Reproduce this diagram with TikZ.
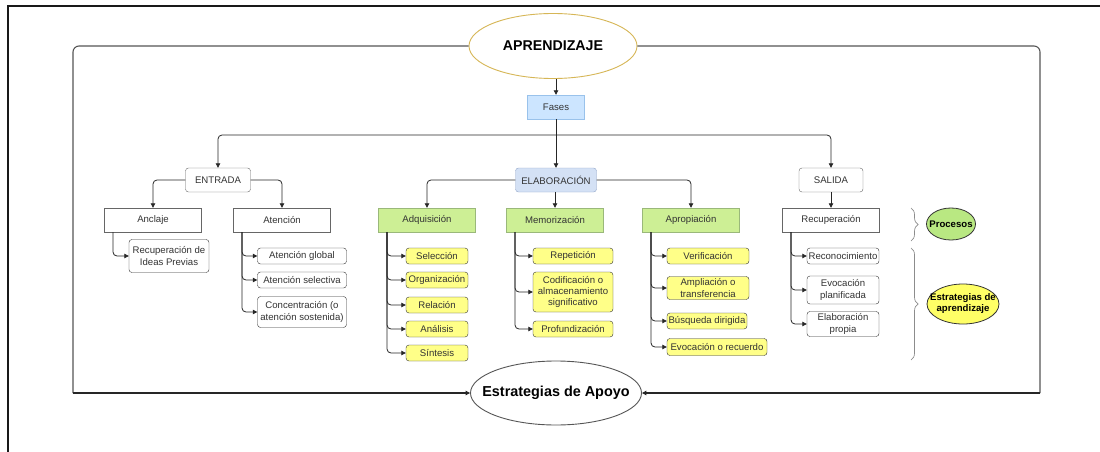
\documentclass[tikz,border=0pt]{standalone}
\usepackage{fontspec}
\setmainfont{Liberation Sans}
\usetikzlibrary{shapes.geometric,arrows.meta,decorations.pathreplacing}
\definecolor{texto}{HTML}{333333}
\definecolor{borde}{HTML}{666666}
\definecolor{marco}{HTML}{555555}
\definecolor{oro}{HTML}{D6B656}
\definecolor{azulf}{HTML}{CCE5FF}
\definecolor{azulb}{HTML}{99C2EB}
\definecolor{azule}{HTML}{D4E1F5}
\definecolor{azuleb}{HTML}{8FA3C7}
\definecolor{verde}{HTML}{CDEF95}
\definecolor{verdeb}{HTML}{9AB87A}
\definecolor{verdep}{HTML}{B9E882}
\definecolor{amarillo}{HTML}{FFFF88}
\definecolor{amarillop}{HTML}{FFFF66}
\newcommand{\letra}{\fontsize{9.6}{11.4}\selectfont}

\begin{document}
\begin{tikzpicture}[x=1pt,y=-1pt,
fase/.style={
	draw=borde, rounded corners=3pt, fill=white,
	minimum width=65pt, minimum height=24pt,
	inner sep=1pt, text=texto, font=\letra
},
proceso/.style={
	draw=borde, fill=white,
	minimum width=97pt, minimum height=24pt,
	inner sep=1pt, text=texto, font=\letra
},
estr/.style={
	draw=texto, rounded corners=3pt, fill=white,
	minimum height=16pt, inner sep=1pt,
	text=texto, font=\letra, align=center
},
conn/.style={draw=black!85, line width=0.8pt, -{Triangle[length=4.5pt,width=4.5pt]}},
rama/.style={conn, rounded corners=4pt},
llave/.style={draw=black!45, line width=0.7pt, decorate, decoration={brace, amplitude=7pt}},
elipse/.style={ellipse, inner xsep=-20pt, inner ysep=0pt, text=black}
]
\useasboundingbox (0,0) rectangle (1100,452);
\draw[black!90, line width=1.3pt] (8,452) -- (8,6) -- (1100,6);

\node[elipse, draw=oro, line width=0.9pt, fill=white, minimum width=168pt, minimum height=65pt,
	font=\fontsize{14.2}{16}\selectfont\bfseries] (aprend) at (553,46) {APRENDIZAJE};
\node[elipse, draw=marco, line width=0.9pt, fill=white, minimum width=171pt, minimum height=64pt,
	font=\fontsize{14.4}{16}\selectfont\bfseries] (apoyo) at (556,393) {Estrategias de Apoyo};
\coordinate (esqIzq) at (73,393);
\coordinate (esqDer) at (1040,393);
\draw[marco, line width=1.1pt, rounded corners=6pt] (aprend.west) -| (esqIzq);
\draw[marco, line width=1.1pt, rounded corners=6pt] (aprend.east) -| (esqDer);
\draw[conn, line width=1.1pt] (esqIzq) -- (apoyo.west);
\draw[conn, line width=1.1pt] (esqDer) -- (apoyo.east);

\node[draw=azulb, fill=azulf, minimum width=57pt, minimum height=24pt, text=texto, font=\letra] (fases) at (556,107) {Fases};
\draw[conn] (aprend.south -| fases.north) -- (fases.north);

\node[fase] (entrada) at (218,180) {ENTRADA};
\node[fase, fill=azule, draw=azuleb, minimum width=81pt] (elab) at (556,180) {ELABORACIÓN};
\node[fase, minimum width=64pt] (salida) at (831,180) {SALIDA};
\coordinate (bus) at (556,135);
\draw[conn] (fases.south) -- (elab.north);
\draw[rama] (bus) -| (entrada.north);
\draw[rama] (bus) -| (salida.north);

\node[proceso] (anclaje) at (153,220) {Anclaje};
\node[proceso] (atencion) at (282,220) {Atención};
\node[proceso, fill=verde, draw=verdeb] (adqui) at (427,220) {Adquisición};
\node[proceso, fill=verde, draw=verdeb] (memo) at (555,220) {Memorización};
\node[proceso, fill=verde, draw=verdeb] (apropi) at (691,220) {Apropiación};
\node[proceso] (recup) at (831,220) {Recuperación};
\draw[rama] (entrada.west) -| (anclaje.north);
\draw[rama] (entrada.east) -| (atencion.north);
\draw[rama] (elab.west) -| (adqui.north);
\draw[rama] (elab.east) -| (apropi.north);
\draw[conn] (elab.south -| memo.north) -- (memo.north);
\draw[conn] (salida.south) -- (recup.north);

\node[estr, minimum width=80pt, minimum height=33pt] (ideas) at (169,256) {Recuperación de\\Ideas Previas};
\node[estr, minimum width=89pt] (aglobal) at (302,256) {Atención global};
\node[estr, minimum width=89pt] (aselec) at (302,280) {Atención selectiva};
\node[estr, minimum width=89pt, minimum height=31pt] (concen) at (302,312) {Concentración (o\\atención sostenida)};

\node[estr, fill=amarillo, minimum width=62pt] (selec) at (437,256) {Selección};
\node[estr, fill=amarillo, minimum width=62pt] (organ) at (437,280) {Organización};
\node[estr, fill=amarillo, minimum width=62pt] (relac) at (437,305) {Relación};
\node[estr, fill=amarillo, minimum width=62pt] (analis) at (437,329) {Análisis};
\node[estr, fill=amarillo, minimum width=62pt] (sintes) at (437,353) {Síntesis};

\node[estr, fill=amarillo, minimum width=80pt] (repet) at (573,256) {Repetición};
\node[estr, fill=amarillo, minimum width=80pt, minimum height=40pt] (codif) at (573,292) {Codificación o\\almacenamiento\\significativo};
\node[estr, fill=amarillo, minimum width=80pt] (profun) at (573,329) {Profundización};

\node[estr, fill=amarillo, minimum width=82pt] (verif) at (708,256) {Verificación};
\node[estr, fill=amarillo, minimum width=82pt, minimum height=23pt] (amplia) at (708,288) {Ampliación o\\transferencia};
\node[estr, fill=amarillo, minimum width=80pt] (busq) at (707,321) {Búsqueda dirigida};
\node[estr, fill=amarillo, minimum width=100pt, minimum height=17pt] (evoc) at (717,347) {Evocación o recuerdo};

\node[estr, minimum width=72pt] (reconoc) at (843,256) {Reconocimiento};
\node[estr, minimum width=72pt, minimum height=28pt] (evplan) at (843,290) {Evocación\\planificada};
\node[estr, minimum width=72pt, minimum height=25pt] (elabprop) at (843,324) {Elaboración\\propia};

\foreach \p/\c in {anclaje/ideas, atencion/aglobal, atencion/aselec, atencion/concen,
	adqui/selec, adqui/organ, adqui/relac, adqui/analis, adqui/sintes,
	memo/repet, memo/codif, memo/profun,
	apropi/verif, apropi/amplia, apropi/busq, apropi/evoc,
	recup/reconoc, recup/evplan, recup/elabprop}
	\draw[rama] ([xshift=-40pt]\p.south) |- (\c.west);

\draw[llave] (911,208) -- (911,241);
\draw[llave] (911,248) -- (911,360);
\node[elipse, draw=texto, line width=0.8pt, fill=verdep, minimum width=49pt, minimum height=32pt,
	font=\fontsize{9.6}{11}\selectfont\bfseries] (procesos) at (951,224) {Procesos};
\node[elipse, draw=texto, line width=0.8pt, fill=amarillop, minimum width=72pt, minimum height=40pt,
	align=center, font=\fontsize{9.6}{11}\selectfont\bfseries] (estrat) at (963,304) {Estrategias de\\aprendizaje};
\end{tikzpicture}
\end{document}
